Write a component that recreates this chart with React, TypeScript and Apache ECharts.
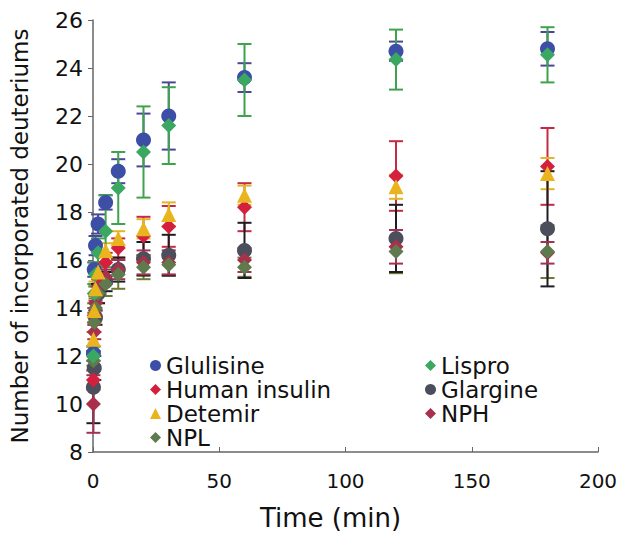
import React, { useEffect, useRef } from "react";
import * as echarts from "echarts";

const times = [0.17, 0.5, 1, 2, 5, 10, 20, 30, 60, 120, 180];

const glulisine = [12.1, 15.6, 16.6, 17.5, 18.4, 19.7, 21.0, 22.0, 23.6, 24.7, 24.8];
const glulisineErr = [0.3, 0.3, 0.4, 0.4, 0.3, 0.5, 1.1, 1.4, 0.6, 0.4, 0.7];
const lispro = [12.0, 14.6, 15.4, 16.3, 17.2, 19.0, 20.5, 21.6, 23.5, 24.35, 24.55];
const lisproErr = [0.4, 0.4, 0.5, 0.6, 1.5, 1.5, 1.9, 1.6, 1.5, 1.25, 1.15];
const humanInsulin = [11.0, 13.7, 14.6, 15.3, 15.9, 16.5, 17.0, 17.4, 18.2, 19.5, 19.9];
const humanInsulinErr = [0.4, 0.3, 0.3, 0.3, 0.4, 0.4, 0.8, 0.85, 1.0, 1.45, 1.6];
const glargine = [10.7, 11.5, 13.6, 14.6, 15.1, 15.6, 16.05, 16.2, 16.4, 16.9, 17.3];
const glargineErr = [1.5, 0.5, 0.3, 0.4, 0.4, 0.5, 0.7, 0.85, 1.15, 1.4, 2.4];
const detemir = [12.7, 13.9, 14.8, 15.5, 16.4, 16.9, 17.3, 17.9, 18.7, 19.05, 19.6];
const detemirErr = [0.3, 0.3, 0.3, 0.3, 0.3, 0.3, 0.4, 0.5, 0.4, 0.5, 0.65];
const nph = [10.0, 13.0, 14.2, 14.9, 15.3, 15.6, 15.9, 15.9, 16.0, 16.55, 16.3];
const nphErr = [1.2, 0.3, 0.3, 0.3, 0.3, 0.4, 0.5, 0.5, 0.5, 0.7, 0.45];
const npl = [11.8, 13.4, 14.0, 14.6, 15.0, 15.4, 15.7, 15.8, 15.7, 16.35, 16.35];
const nplErr = [0.4, 0.4, 0.4, 0.4, 0.5, 0.6, 0.5, 0.45, 0.4, 0.9, 1.1];

const xTicks = { min: 0, max: 200, interval: 50 };
const yTicks = { min: 8, max: 26, interval: 2 };

const legendLeftColumn = ["Glulisine", "Human insulin", "Detemir", "NPL"];
const legendRightColumn = ["Lispro", "Glargine", "NPH"];

type S = { name: string; vals: number[]; err: number[]; color: string; errColor: string; symbol: string; size: number };

const seriesDefs: S[] = [
  { name: "Glulisine", vals: glulisine, err: glulisineErr, color: "#3d4ea6", errColor: "#4a4896", symbol: "circle", size: 15 },
  { name: "Human insulin", vals: humanInsulin, err: humanInsulinErr, color: "#d4203c", errColor: "#c42a42", symbol: "diamond", size: 15 },
  { name: "Detemir", vals: detemir, err: detemirErr, color: "#e9b41e", errColor: "#e2b42a", symbol: "triangle", size: 15 },
  { name: "NPL", vals: npl, err: nplErr, color: "#5f7a4c", errColor: "#6f7a34", symbol: "diamond", size: 15 },
  { name: "Lispro", vals: lispro, err: lisproErr, color: "#3aa860", errColor: "#3fa24c", symbol: "diamond", size: 15 },
  { name: "Glargine", vals: glargine, err: glargineErr, color: "#4b4f5b", errColor: "#1e1e22", symbol: "circle", size: 15 },
  { name: "NPH", vals: nph, err: nphErr, color: "#a8304c", errColor: "#a33252", symbol: "diamond", size: 15 },
];

const drawOrder = ["Glulisine", "Glargine", "NPH", "Human insulin", "NPL", "Lispro", "Detemir"];

export default function App() {
  const ref = useRef<HTMLDivElement>(null);
  useEffect(() => {
    if (!ref.current) return;
    const chart = echarts.init(ref.current, undefined, { renderer: "svg" });
    const font = "DejaVu Sans, Verdana, sans-serif";

    const errSeries = seriesDefs.map((s) => ({
      type: "custom",
      name: s.name + " error",
      z: 2,
      silent: true,
      data: times.map((t, i) => [t, s.vals[i] - s.err[i], s.vals[i] + s.err[i]]),
      renderItem: (params: any, api: any) => {
        const x = api.value(0);
        const lo = api.coord([x, api.value(1)]);
        const hi = api.coord([x, api.value(2)]);
        const w = 7;
        const style = { stroke: s.errColor, lineWidth: 2 };
        return {
          type: "group",
          children: [
            { type: "line", shape: { x1: lo[0], y1: lo[1], x2: hi[0], y2: hi[1] }, style },
            { type: "line", shape: { x1: lo[0] - w, y1: lo[1], x2: lo[0] + w, y2: lo[1] }, style },
            { type: "line", shape: { x1: hi[0] - w, y1: hi[1], x2: hi[0] + w, y2: hi[1] }, style },
          ],
        };
      },
    }));

    const ordered = drawOrder.map((n) => seriesDefs.find((s) => s.name === n)!);
    const markSeries = ordered.map((s) => ({
      type: "scatter",
      name: s.name,
      z: 3,
      symbol: s.symbol,
      symbolSize: s.size,
      itemStyle: { color: s.color, opacity: 1 },
      data: times.map((t, i) => [t, s.vals[i]]),
    }));

    const legendCommon = {
      orient: "vertical",
      padding: 0,
      itemWidth: 11,
      itemHeight: 11,
      itemGap: 1,
      textStyle: { fontFamily: font, fontSize: 23, lineHeight: 22, color: "#111" },
    };

    chart.setOption({
      animation: false,
      backgroundColor: "#ffffff",
      grid: { left: 93, right: 19, top: 20, bottom: 81, containLabel: false, outerBoundsMode: "none" },
      legend: [
        { ...legendCommon, left: 150, top: 354, data: legendLeftColumn },
        { ...legendCommon, left: 425, top: 354, data: legendRightColumn },
      ],
      xAxis: {
        type: "value",
        min: xTicks.min,
        max: xTicks.max,
        interval: xTicks.interval,
        name: "Time (min)",
        nameLocation: "middle",
        nameGap: 53,
        nameTextStyle: { fontFamily: font, fontSize: 26, color: "#111", padding: [0, 30, 0, 0] },
        axisLine: { lineStyle: { color: "#666", width: 1.5 } },
        axisTick: { inside: true, length: 5, lineStyle: { color: "#666" } },
        axisLabel: { fontFamily: font, fontSize: 20, color: "#111", margin: 19 },
        splitLine: { show: false },
      },
      yAxis: {
        type: "value",
        min: yTicks.min,
        max: yTicks.max,
        interval: yTicks.interval,
        name: "Number of incorporated deuteriums",
        nameLocation: "middle",
        nameGap: 62,
        nameTextStyle: { fontFamily: font, fontSize: 23, color: "#111" },
        axisLine: { show: true, lineStyle: { color: "#666", width: 1.5 } },
        axisTick: { show: true, inside: false, length: 5, lineStyle: { color: "#666" } },
        axisLabel: { fontFamily: font, fontSize: 22, color: "#111", margin: 10 },
        splitLine: { show: false },
      },
      series: [...errSeries, ...markSeries],
    });
    return () => chart.dispose();
  }, []);
  return <div ref={ref} style={{ width: 617, height: 533, position: "absolute", left: 0, top: 0 }} />;
}
